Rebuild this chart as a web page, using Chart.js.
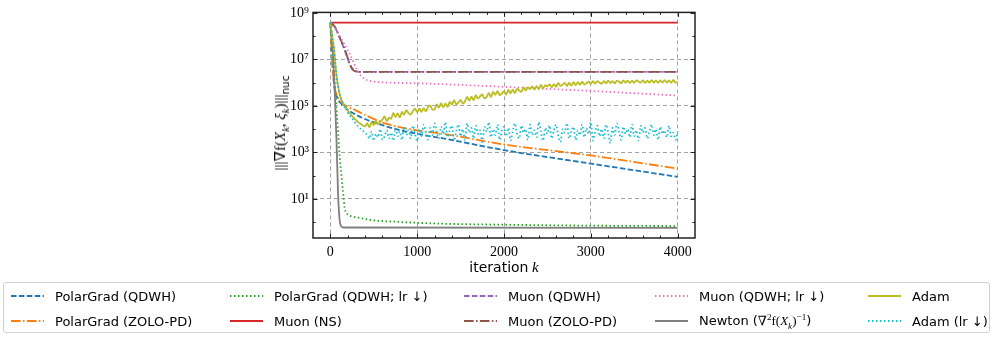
<!DOCTYPE html>
<html>
<head>
<meta charset="utf-8">
<script src="https://cdn.jsdelivr.net/npm/chart.js@4.4.1/dist/chart.umd.min.js"></script>
<style>
  html, body { margin: 0; padding: 0; background: #fff; }
  #wrap { position: relative; width: 997px; height: 338px; overflow: hidden; }
  #c { position: absolute; left: 0; top: 0; }
  .math { font-family: "Liberation Serif", "DejaVu Serif", serif; }
  .sf { font-family: "DejaVu Sans", sans-serif; }
  #ytitle { position: absolute; left: 280px; top: 123px; transform: translate(-50%, -50%) rotate(-90deg);
            white-space: nowrap; font-size: 15px; }
  #xtitle { position: absolute; left: 504px; top: 267px; transform: translate(-50%, -50%);
            white-space: nowrap; font-size: 14px; }
  #legend { position: absolute; left: 3px; top: 282px; width: 987px; height: 51px;
            border: 1px solid #d0d0d0; border-radius: 3px; box-sizing: border-box; }
  .item { position: absolute; height: 20px; display: flex; align-items: center; white-space: nowrap;
          font-family: "DejaVu Sans", sans-serif; font-size: 13px; color: #000; }
  .item svg { margin-right: 11px; }
  sub, sup { font-size: 70%; line-height: 0; }
</style>
</head>
<body>
<div id="wrap">
  <canvas id="c" width="997" height="338"></canvas>
  <div id="ytitle"><span class="math">|||∇f(<i>X</i><sub><i>k</i></sub>, <i>ξ</i><sub><i>k</i></sub>)|||</span><sub class="sf">nuc</sub></div>
  <div id="xtitle"><span class="sf">iteration</span> <i class="math" style="font-size:15px">k</i></div>
  <div id="legend"></div>
</div>
<script>
// ---- data ----
var seriesNames = [
  "PolarGrad (QDWH)", "PolarGrad (ZOLO-PD)", "PolarGrad (QDWH; lr ↓)", "Muon (NS)", "Muon (QDWH)",
  "Muon (ZOLO-PD)", "Muon (QDWH; lr ↓)", "Newton (∇²f(Xₖ)⁻¹)", "Adam", "Adam (lr ↓)"
]

var polarQdwhIters = [0, 20, 45, 80, 130, 280, 650, 1000, 1300, 2000, 3000, 4000]
var polarQdwhLoss  = [3.8e8, 1e7, 7.1e5, 2.2e5, 1.2e5, 4.5e4, 1.3e4, 6.3e3, 4.0e3, 1.26e3, 330, 89]

var polarZoloIters = [0, 20, 45, 80, 130, 260, 640, 1000, 1300, 2000, 3000, 4000]
var polarZoloLoss  = [3.8e8, 1e7, 7.9e5, 2.6e5, 1.4e5, 7.4e4, 1.74e4, 8.9e3, 6.3e3, 2.2e3, 740, 200]

var polarLrIters = [0, 15, 31, 50, 69, 90, 107, 128, 146, 165, 204, 250, 330, 500, 700, 1250, 2000, 3000, 4000]
var polarLrLoss  = [3.8e8, 7.9e7, 1.1e7, 1e6, 8.7e4, 6.3e3, 690, 100, 19.5, 4.0, 2.1, 1.78, 1.55, 1.2, 1.07, 0.87, 0.78, 0.71, 0.68]

var muonNsIters = [0, 4000]
var muonNsLoss  = [3.8e8, 3.8e8]

var muonQdwhIters = [0, 50, 100, 165, 230, 280, 330, 400, 4000]
var muonQdwhLoss  = [3.8e8, 2.5e8, 1e8, 2.5e7, 5.6e6, 3.2e6, 2.95e6, 2.9e6, 2.9e6]

var muonZoloIters = [0, 50, 100, 165, 240, 300, 400, 4000]
var muonZoloLoss  = [3.8e8, 2.6e8, 1e8, 2.8e7, 4.5e6, 3.0e6, 2.9e6, 2.9e6]

var muonLrIters = [0, 30, 100, 220, 330, 450, 700, 1200, 2000, 3000, 4000]
var muonLrLoss  = [3.8e8, 2.8e8, 1.12e8, 1.8e7, 2.5e6, 1.2e6, 1.0e6, 8.9e5, 6.6e5, 4.4e5, 2.8e5]

var newtonIters = [0, 25, 50, 70, 88, 100, 110, 125, 150, 4000]
var newtonLoss  = [3.8e8, 4e7, 4.5e5, 4e3, 20, 2.5, 1.0, 0.66, 0.59, 0.57]

var adamEarlyIters = [0, 20, 42, 69, 107, 142, 165, 200, 242, 280, 320, 360, 400]
var noisyIters = [
  425, 450, 475, 500, 525, 550, 575, 600, 625, 650, 675, 700, 725, 750, 775, 800, 825, 850, 875, 900, 925, 950, 975, 1000,
  1025, 1050, 1075, 1100, 1125, 1150, 1175, 1200, 1225, 1250, 1275, 1300, 1325, 1350, 1375, 1400, 1425, 1450, 1475, 1500,
  1525, 1550, 1575, 1600, 1625, 1650, 1675, 1700, 1725, 1750, 1775, 1800, 1825, 1850, 1875, 1900, 1925, 1950, 1975, 2000,
  2025, 2050, 2075, 2100, 2125, 2150, 2175, 2200, 2225, 2250, 2275, 2300, 2325, 2350, 2375, 2400, 2425, 2450, 2475, 2500,
  2525, 2550, 2575, 2600, 2625, 2650, 2675, 2700, 2725, 2750, 2775, 2800, 2825, 2850, 2875, 2900, 2925, 2950, 2975, 3000,
  3025, 3050, 3075, 3100, 3125, 3150, 3175, 3200, 3225, 3250, 3275, 3300, 3325, 3350, 3375, 3400, 3425, 3450, 3475, 3500,
  3525, 3550, 3575, 3600, 3625, 3650, 3675, 3700, 3725, 3750, 3775, 3800, 3825, 3850, 3875, 3900, 3925, 3950, 3975, 4000
]

var adamLoss = [
  3.8e8, 1e8, 2.9e7, 2.2e6, 3.2e5, 1.4e5, 1e5, 6.3e4, 4.0e4, 2.8e4, 2.0e4, 1.58e4, 1.32e4,
  1.8e4, 1.2e4, 2.0e4, 1.5e4, 2.3e4, 1.6e4, 2.1e4, 2.6e4, 3.5e4, 2.2e4, 3.1e4, 2.8e4, 5.0e4, 3.3e4, 4.8e4, 3.2e4,
  5.5e4, 4.2e4, 6.6e4, 4.9e4, 4.2e4, 6.0e4, 7.6e4, 5.4e4,
  7.9e4, 5.5e4, 8.1e4, 5.8e4, 9.0e4, 1.05e5, 7.0e4, 6.9e4, 1.15e5, 8.5e4, 1.3e5, 8.7e4, 1.26e5, 9.1e4, 1.5e5, 1.15e5,
  1.75e5, 1.17e5, 1.4e5, 1.8e5, 1.26e5, 1.55e5, 2.45e5, 1.7e5, 2.5e5, 1.75e5, 2.9e5, 2.1e5, 2.6e5, 3.1e5, 2.1e5, 2.45e5,
  3.5e5, 2.4e5, 4.0e5, 3.0e5, 4.3e5, 2.9e5, 3.4e5, 4.3e5,
  3.1e5, 4.9e5, 3.5e5, 5.0e5, 3.5e5, 5.5e5, 4.6e5, 4.0e5, 6.2e5, 4.6e5, 6.3e5, 5.3e5, 6.9e5, 5.0e5, 7.1e5, 5.2e5,
  8.1e5, 5.6e5, 7.9e5, 6.9e5, 8.5e5, 6.3e5, 8.7e5, 6.6e5, 9.8e5, 7.1e5, 8.2e5, 9.8e5, 7.2e5, 1.0e6, 7.6e5, 1.05e6,
  7.9e5, 1.05e6, 8.1e5, 1.1e6, 8.5e5, 9.5e5, 1.1e6, 8.9e5,
  1.15e6, 9.1e5, 1.17e6, 1.0e6, 8.9e5, 1.15e6, 9.3e5, 1.23e6, 9.5e5, 1.17e6, 9.3e5, 1.23e6, 1.1e6, 9.3e5, 1.26e6, 1.0e6,
  1.23e6, 9.5e5, 1.23e6, 9.8e5, 1.26e6, 1.12e6, 1.0e6, 1.26e6, 9.8e5, 1.23e6, 1.0e6, 1.29e6, 1.0e6, 1.26e6, 9.8e5, 1.26e6,
  1.02e6, 1.29e6, 1.0e6, 1.26e6, 9.8e5, 1.32e6, 1.0e6, 1.07e6
]

var adamLrLoss = [
  3.8e8, 1e8, 2.9e7, 2.2e6, 3.2e5, 1.4e5, 9.5e4, 5.2e4, 3.2e4, 2.0e4, 1.32e4, 9.5e3, 7.1e3,
  5.6e3, 4.0e3, 7.9e3, 3.2e3, 6.3e3, 4.5e3, 1.0e4, 3.5e3, 5.0e3, 8.9e3, 4.0e3, 7.1e3, 3.2e3, 1.12e4, 5.0e3, 7.9e3,
  3.5e3, 1.26e4, 5.6e3, 8.9e3, 4.0e3, 1.41e4, 6.3e3, 3.2e3,
  1.0e4, 5.0e3, 1.58e4, 7.1e3, 3.5e3, 1.12e4, 5.6e3, 1.78e4, 7.9e3, 4.0e3, 1.26e4, 6.3e3, 2.0e4, 4.5e3, 8.9e3, 1.41e4,
  3.2e3, 7.9e3, 1.58e4, 5.0e3, 1.0e4, 3.5e3, 1.78e4, 7.1e3, 1.12e4, 4.0e3, 1.41e4, 6.3e3, 8.9e3, 2.8e3, 1.26e4, 7.9e3,
  2.0e4, 4.5e3, 1.0e4, 5.6e3, 1.58e4, 3.5e3, 8.9e3, 1.26e4,
  5.0e3, 1.12e4, 3.2e3, 7.9e3, 1.78e4, 6.3e3, 4.0e3, 1.41e4, 7.1e3, 1.0e4, 3.5e3, 1.58e4, 5.6e3, 8.9e3, 4.5e3, 2.0e4,
  7.9e3, 3.2e3, 1.12e4, 6.3e3, 1.41e4, 4.0e3, 8.9e3, 1.58e4, 5.0e3, 2.8e3, 1.0e4, 7.1e3, 1.78e4, 4.0e3, 7.9e3, 1.26e4,
  3.5e3, 8.9e3, 5.6e3, 1.58e4, 4.5e3, 1.12e4, 6.3e3, 2.0e4,
  3.2e3, 7.9e3, 1.41e4, 5.0e3, 1.0e4, 4.0e3, 1.58e4, 7.1e3, 2.5e3, 1.12e4, 5.6e3, 1.78e4, 7.9e3, 3.5e3, 1.26e4, 6.3e3,
  1.0e4, 4.5e3, 1.58e4, 5.0e3, 8.9e3, 3.2e3, 1.41e4, 7.1e3, 1.12e4, 4.0e3, 7.9e3, 1.58e4, 5.6e3, 1.0e4, 3.5e3, 1.26e4,
  6.3e3, 8.9e3, 4.5e3, 1.41e4, 5.0e3, 7.1e3, 3.5e3, 7.9e3
]

var xTickValues = [0, 1000, 2000, 3000, 4000]
var xTickLabels = ["0", "1000", "2000", "3000", "4000"]
var yTickValues = [1e1, 1e3, 1e5, 1e7, 1e9]
var yTickLabels = ["10¹", "10³", "10⁵", "10⁷", "10⁹"]

// ---- styles ----
var colors = ["#1f77b4", "#ff7f0e", "#2ca02c", "#d62728", "#9467bd", "#8c564b", "#e377c2", "#7f7f7f", "#bcbd22", "#17becf"]
var DASHED = [5.5, 2.4], DASHDOT = [9.6, 2.4, 1.5, 2.4], DOTTED = [1.5, 2.5], SOLID = []
var dashes = [DASHED, DASHDOT, DOTTED, SOLID, DASHED, DASHDOT, DOTTED, SOLID, SOLID, DOTTED]

var legendHtml = seriesNames.slice()
legendHtml[7] = 'Newton (<span class="math">∇<sup>2</sup>f(<i>X</i><sub><i>k</i></sub>)<sup>−1</sup></span>)'

function pts(iters, vals) {
  return iters.map(function (k, i) { return { x: k, y: vals[i] } })
}

var seriesData = [
  pts(polarQdwhIters, polarQdwhLoss),
  pts(polarZoloIters, polarZoloLoss),
  pts(polarLrIters, polarLrLoss),
  pts(muonNsIters, muonNsLoss),
  pts(muonQdwhIters, muonQdwhLoss),
  pts(muonZoloIters, muonZoloLoss),
  pts(muonLrIters, muonLrLoss),
  pts(newtonIters, newtonLoss),
  pts(adamEarlyIters.concat(noisyIters), adamLoss),
  pts(adamEarlyIters.concat(noisyIters), adamLrLoss)
]

var datasets = seriesData.map(function (d, i) {
  return {
    label: seriesNames[i],
    data: d,
    borderColor: colors[i],
    borderDash: dashes[i],
    borderWidth: 1.8,
    pointRadius: 0,
    fill: false,
    cubicInterpolationMode: "monotone",
    order: 20 - i
  }
})

// matplotlib-like frame with inward ticks on all four sides
var frame = {
  id: "frame",
  afterDraw: function (chart) {
    var ctx = chart.ctx, a = chart.chartArea, xs = chart.scales.x, ys = chart.scales.y
    ctx.save()
    ctx.strokeStyle = "#222"
    ctx.lineWidth = 1
    ctx.beginPath()
    for (var v = -200; v <= 4200; v += 200) {
      var px = Math.round(xs.getPixelForValue(v)) + 0.5
      if (px <= a.left + 1 || px >= a.right - 1) continue
      var len = v % 1000 === 0 ? 4.5 : 2.5
      ctx.moveTo(px, a.bottom); ctx.lineTo(px, a.bottom - len)
      ctx.moveTo(px, a.top); ctx.lineTo(px, a.top + len)
    }
    for (var e = 0; e <= 9; e++) {
      var py = Math.round(ys.getPixelForValue(Math.pow(10, e))) + 0.5
      if (py <= a.top + 1 || py >= a.bottom - 1) continue
      var l2 = e % 2 ? 4.5 : 2.5
      ctx.moveTo(a.left, py); ctx.lineTo(a.left + l2, py)
      ctx.moveTo(a.right, py); ctx.lineTo(a.right - l2, py)
    }
    ctx.stroke()
    ctx.lineWidth = 1.5
    ctx.strokeRect(a.left, a.top, a.right - a.left, a.bottom - a.top)
    ctx.restore()
  }
}

var chart = new Chart(document.getElementById("c"), {
  type: "line",
  data: { datasets: datasets },
  options: {
    responsive: false,
    animation: false,
    layout: { padding: { left: 0, right: 302, top: 8, bottom: 0 } },
    plugins: { legend: { display: false }, tooltip: { enabled: false } },
    scales: {
      x: {
        type: "linear", min: -200, max: 4200,
        afterBuildTicks: function (s) { s.ticks = xTickValues.map(function (v) { return { value: v } }) },
        afterFit: function (s) { s.height = 100 },
        grid: { drawTicks: false, color: "#8a8a8a", lineWidth: 0.8 },
        border: { display: false, dash: [4, 3] },
        ticks: { autoSkip: false, maxRotation: 0, padding: 6, color: "#000",
                 font: { family: "Liberation Serif", size: 14 },
                 callback: function (v, i) { return xTickLabels[i] } }
      },
      y: {
        type: "logarithmic", min: 0.209, max: 1.05e9,
        afterBuildTicks: function (s) { s.ticks = yTickValues.map(function (v) { return { value: v } }) },
        afterFit: function (s) { s.width = 313 },
        grid: { drawTicks: false, color: "#8a8a8a", lineWidth: 0.8 },
        border: { display: false, dash: [4, 3] },
        ticks: { padding: 4, color: "#000", font: { family: "Liberation Serif", size: 14 },
                 callback: function (v, i) { return yTickLabels[i] } }
      }
    }
  },
  plugins: [frame]
})

// legend laid out column-major like the matplotlib one (5 columns x 2 rows)
var colLeft = [7, 226, 460, 651, 864]
var rowMid = [13, 38]
var legend = document.getElementById("legend")
seriesNames.forEach(function (name, i) {
  var col = Math.floor(i / 2), row = i % 2
  var div = document.createElement("div")
  div.className = "item"
  div.style.left = colLeft[col] + "px"
  div.style.top = (rowMid[row] - 10) + "px"
  var dash = dashes[i].length ? dashes[i].join(" ") : "none"
  div.innerHTML = '<svg width="33" height="6"><line x1="0" y1="3" x2="33" y2="3" stroke="' + colors[i] +
    '" stroke-width="1.8" stroke-dasharray="' + dash + '"/></svg><span>' + legendHtml[i] + '</span>'
  legend.appendChild(div)
})
</script>
</body>
</html>
